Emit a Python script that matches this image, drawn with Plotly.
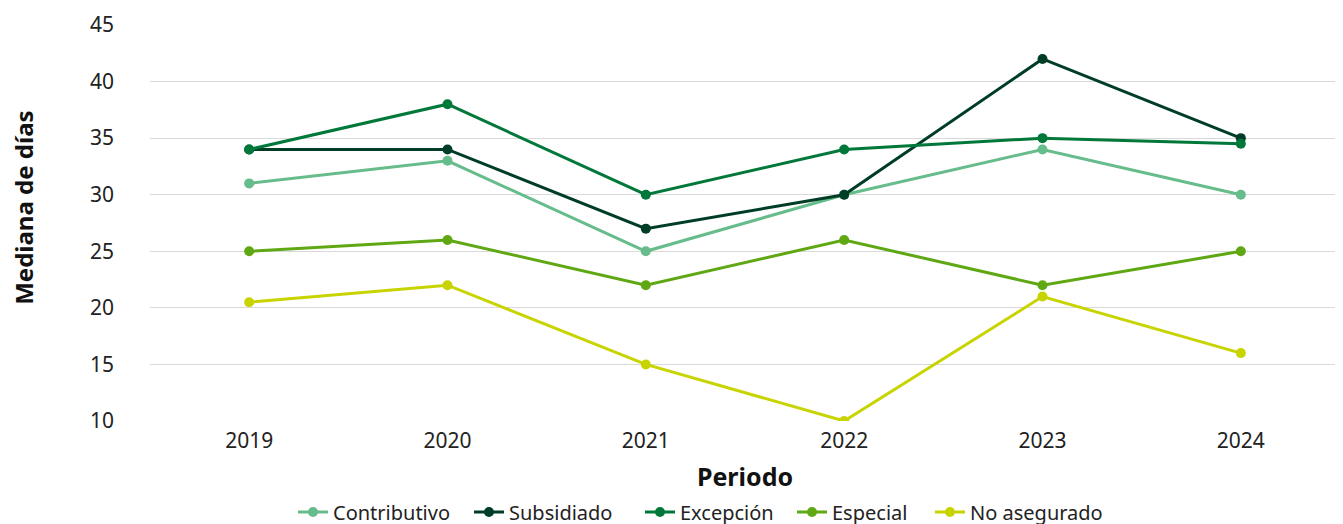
import plotly.graph_objects as go

periodos = ['2019', '2020', '2021', '2022', '2023', '2024']

contributivo = [31, 33, 25, 30, 34, 30]
subsidiado = [34, 34, 27, 30, 42, 35]
excepcion = [34, 38, 30, 34, 35, 34.5]
especial = [25, 26, 22, 26, 22, 25]
no_asegurado = [20.5, 22, 15, 10, 21, 16]

series = [
    ('Contributivo', contributivo, '#66BC8A'),
    ('Subsidiado', subsidiado, '#003D26'),
    ('Excepción', excepcion, '#00783A'),
    ('Especial', especial, '#5FA814'),
    ('No asegurado', no_asegurado, '#C8D400'),
]

# left edge (px) of each legend entry, one legend per series so spacing matches
legend_x_px = [285, 461, 632, 784, 922]

font_family = 'Noto Sans, Lato, sans-serif'
W, H = 1343, 524

fig = go.Figure()
legend_layout = {}
for i, (name, values, color) in enumerate(series):
    key = 'legend' if i == 0 else f'legend{i + 1}'
    fig.add_trace(go.Scatter(
        x=periodos, y=values, mode='lines+markers', name=name,
        line=dict(color=color, width=3),
        marker=dict(color=color, size=10),
        legend=key,
    ))
    legend_layout[key] = dict(
        orientation='h', xref='container', x=legend_x_px[i] / W, xanchor='left',
        yref='container', y=0.038, yanchor='middle',
        font=dict(size=20), itemwidth=30, bgcolor='rgba(0,0,0,0)',
    )

# the page body adds an 8px offset, so margins are shifted to compensate
fig.update_layout(
    width=W, height=H,
    margin=dict(l=142, r=11, t=17, b=111),
    plot_bgcolor='white', paper_bgcolor='white',
    font=dict(family=font_family, size=20, color='#222222'),
    showlegend=True,
    **legend_layout,
)

# y title sits a little above the plot's centre, so draw it as an annotation
fig.add_annotation(
    text='<b>Mediana de días</b>', textangle=-90,
    xref='paper', yref='paper', x=-0.1065, y=0.539,
    xanchor='center', yanchor='middle', showarrow=False,
    font=dict(size=24, color='#111111'),
)

fig.update_xaxes(
    type='category', range=[-0.5, 5.5], showgrid=False, showline=False, ticks='',
    automargin=False, ticklabelstandoff=5,
    title=dict(text='<b>Periodo</b>', font=dict(size=25, color='#111111'), standoff=16),
    tickfont=dict(size=21),
)
fig.update_yaxes(
    range=[10, 45], dtick=5, showgrid=True, gridcolor='#D9D9D9', gridwidth=1,
    zeroline=False, showline=False, ticks='', ticklabelstandoff=35,
    automargin=False,
    tickfont=dict(size=21),
)

fig.write_html('out.html')
